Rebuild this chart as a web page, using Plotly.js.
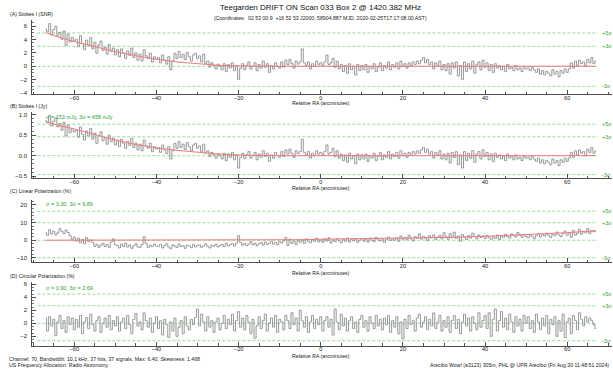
<!DOCTYPE html>
<html>
<head>
<meta charset="utf-8">
<script src="https://cdn.plot.ly/plotly-3.0.1.min.js"></script>
<style>
  html, body { margin: 0; padding: 0; background: #fff; }
  #chart { width: 613px; height: 375px; }
</style>
</head>
<body>
<div id="chart"></div>
<script>
// Drift scan sampling: relative RA (arcmin) of the first sample and the step between samples
const raStart = -67;
const raStep = 0.5;

// Stokes I flux density (Jy), one value per RA sample, -67 .. +67 arcmin
const stokesIJy = [
  0.86, 0.80, 0.98, 0.72, 0.84, 0.92, 0.70, 0.78, 0.62, 0.81, 0.48, 0.74, 0.56, 0.66, 0.58,
  0.62, 0.45, 0.70, 0.52, 0.38, 0.60, 0.48, 0.66, 0.40, 0.55, 0.30, 0.49, 0.58, 0.36, 0.44, 0.28, 0.50, 0.34, 0.42, 0.26,
  0.38, 0.22, 0.40, 0.30, 0.18, 0.35, 0.25, 0.42, 0.20, 0.31, 0.14, 0.28, 0.12, 0.38, 0.24, 0.18, 0.30, 0.10, 0.22, 0.16,
  0.20, 0.08, 0.26, 0.14, 0.05, 0.22, -0.08, 0.12, 0.30, 0.18, 0.34, 0.20, 0.28, 0.15, 0.32, 0.22, 0.12, 0.26, 0.30, 0.18,
  0.24, 0.10, 0.28, 0.06, 0.12, -0.02, 0.08, 0.02, -0.06, 0.05, 0.00, -0.08, 0.06, -0.12, 0.04, -0.04, 0.08, -0.10, 0.02, -0.30,
  -0.05, 0.06, -0.08, 0.02, 0.10, -0.06, 0.00, 0.08, -0.10, 0.04, -0.04, 0.12, -0.02, 0.06, -0.14, 0.02, -0.06, 0.08, 0.00, -0.04,
  0.10, -0.02, 0.14, 0.04, 0.16, 0.06, -0.04, 0.12, 0.05, 0.10, 0.40, 0.08, 0.02, 0.10, -0.06, 0.06, 0.00, 0.12, 0.04, 0.08,
  0.02, 0.10, 0.26, 0.04, 0.08, 0.18, -0.02, 0.12, -0.06, 0.04, -0.12, 0.02, -0.16, 0.06, -0.08, 0.00, -0.20, 0.04, -0.10, 0.02,
  -0.08, 0.04, -0.14, 0.00, -0.06, 0.06, -0.12, -0.02, 0.08, -0.10, 0.02, -0.04, 0.10, -0.08, 0.04, -0.02, 0.08, -0.06, 0.12, 0.00,
  0.06, -0.04, 0.08, 0.02, 0.10, 0.04, 0.12, 0.06, 0.14, 0.20, 0.08, 0.16, 0.04, 0.10, -0.06, 0.08, 0.02, 0.12, -0.08, 0.04,
  -0.10, 0.06, -0.18, 0.08, -0.04, 0.10, -0.22, 0.02, -0.30, 0.10, -0.12, 0.06, -0.06, 0.12, -0.16, 0.04, 0.10, -0.08, 0.14, -0.02,
  0.08, -0.10, 0.04, -0.14, 0.06, -0.04, 0.02, -0.08, 0.00, -0.12, 0.04, -0.06, -0.02, -0.10, 0.02, -0.08, -0.04, -0.12, 0.00, -0.06,
  -0.04, -0.10, -0.02, -0.08, -0.14, -0.06, -0.18, -0.10, -0.20, -0.12, -0.16, -0.22, -0.08, -0.18, -0.12, -0.24, -0.10, -0.16, -0.06, -0.14,
  -0.06, 0.08, -0.04, 0.12, 0.02, 0.14, 0.06, 0.10, 0.00, 0.16, 0.08, 0.20, 0.06, 0.12
];

// Linear polarization (%)
const linPol = [
  4.5, 2.8, 6.0, 3.5, 5.2, 3.0, 4.2, 6.5, 5.0, 3.8, 5.8, 4.4, 2.5, 0.5, 1.8,
  -0.5, 1.2, -1.5, 0.4, -2.0, 1.5, -0.8, 0.2, -1.2, -3.5, -2.2, -4.0, -2.8, -1.8, -3.6, -2.4, -4.2, -1.0, 0.8, -2.6,
  -3.0, -4.4, -2.2, -3.6, -1.6, -3.8, -2.6, -4.6, -3.2, -2.0, -3.8, -4.0, -2.4, 2.0, -1.8, -4.2, -2.8, -3.6, -2.2, -3.2,
  -3.6, -2.4, -4.4, -3.0, -2.0, -3.8, -4.8, -2.6, -3.4, -4.0, -2.2, -3.6, -3.0, -4.6, -2.8, -3.2, -4.2, -2.4, -3.8, -3.0,
  -2.6, -4.0, -3.2, -2.0, -3.6, -4.4, -2.8, -3.4, -2.2, -3.8, -3.0, -2.4, -3.6, -1.8, -3.2, -2.6, -2.0, -3.4, -1.6, 2.6,
  -1.2, -2.8, -1.8, -3.0, -2.2, -0.8, -2.6, -1.6, -3.2, -2.0, -1.4, -2.8, -1.0, -2.4, -1.8, -0.6, -2.2, -1.2, -2.6, -0.8,
  -1.6, -0.4, 1.6, -3.0, 0.6, -1.8, -0.6, -2.4, 0.2, -1.2, -0.2, -1.8, 0.8, -0.8, -1.4, 0.4, -0.6, 1.2, -1.0, 0.2,
  -1.2, 0.8, -0.4, 1.4, -1.6, 0.2, -0.8, 1.0, -0.2, -1.4, 0.6, -0.6, 1.2, -1.0, 0.4, -0.4, 0.8, -1.2, 0.0, 1.0,
  -0.6, 0.6, -1.0, 1.2, 0.0, -0.8, 1.6, 0.2, -0.4, 1.0, -1.2, 0.4, 1.8, -0.2, 0.8, 0.0, 1.4, -0.6, 2.4, 0.6,
  1.6, 0.2, 2.8, 0.8, -0.4, 2.0, 1.0, 3.6, 0.6, 2.2, 1.2, -0.2, 2.6, 1.4, 3.0, 0.4, 1.8, 2.8, 0.8, 4.2,
  2.0, 0.6, 3.8, 1.4, 4.6, 1.0, 2.4, -0.6, 3.2, 1.8, 0.4, 2.6, 1.2, 4.0, 2.2, 0.8, 3.0, 1.6, 2.4, 1.0,
  2.8, 1.4, 0.6, 2.2, 1.0, 3.0, 0.4, 2.4, 1.6, 3.4, 2.0, 1.2, 3.6, 2.6, 1.8, 4.4, 2.8, 1.6, 3.2, 2.2,
  1.4, 3.0, 2.2, 0.8, 2.6, 3.8, 1.8, 3.2, 2.4, 4.0, 2.8, 1.6, 3.4, 2.6, 4.6, 3.0, 2.0, 3.8, 5.2, 2.8,
  4.4, 1.6, 5.6, 2.8, 4.0, 6.2, 3.4, 5.0, 4.2, 6.6, 3.8, 5.4, 4.8, 5.2
];

// Circular polarization (%)
const circPol = [
  0.8, -1.2, 1.0, -0.4, 0.6, -1.9, 0.2, 1.2, -0.8, 0.4, -1.4, 1.0, -0.2, 0.8, -1.0,
  0.6, -0.6, 1.2, -1.6, 0.2, 0.9, -0.8, 1.4, -0.2, -1.2, 0.4, 1.0, -1.4, 0.0, 0.8, -0.6, 1.2, -1.0, 0.4, -0.4,
  1.0, -1.2, 0.2, 0.8, -0.8, 1.2, -0.2, -1.6, 0.6, 1.5, -0.4, 0.2, -1.0, 1.6, 0.4, -0.6, 0.8, -1.4, 0.0, 1.0,
  -0.8, 0.4, -1.8, 0.6, -0.2, -2.2, 0.2, -1.2, 0.8, -2.0, -0.6, 0.4, -1.6, 1.0, -0.4, -1.0, 0.6, -0.2, 0.9, 2.2,
  -0.4, 1.4, 0.2, -1.2, 1.0, -0.6, 0.4, -1.4, 0.2, 0.8, -1.0, 0.0, 1.2, -0.8, 0.6, -0.2, 1.4, -1.2, 0.4, 1.8,
  -0.6, 0.8, -1.0, 1.2, 0.2, -1.6, 0.6, -2.3, -0.4, 1.0, -0.8, 0.4, 1.4, -1.2, 0.0, 0.8, -0.6, 1.2, -1.4, 0.6,
  0.2, -1.0, 1.2, 0.4, -0.8, 1.6, -0.2, 0.8, -1.2, 2.0, 0.4, -0.6, 1.0, -1.4, 0.2, 1.2, -0.8, 0.6, -0.2, 1.0,
  -1.2, 0.4, 1.0, -0.6, 0.6, -1.8, 2.2, 0.2, -1.0, 1.4, -0.4, 0.8, -1.2, 0.4, 1.0, -0.8, 0.2, -1.4, 0.6, 1.2,
  -0.6, 0.4, -1.2, 1.0, 0.0, -0.8, 1.2, -0.4, 0.6, -1.0, 0.8, -0.2, 1.2, -1.4, 0.4, -0.6, 1.0, -1.6, 0.2, -2.4,
  0.6, -0.8, 1.2, -0.2, 0.4, -1.2, 0.8, 1.4, -0.6, 0.2, 1.0, -1.0, 0.6, -0.4, 1.6, -0.8, 0.2, 1.2, -1.2, 0.4,
  -0.6, 1.0, -1.4, 0.4, 1.2, -0.8, 0.6, -1.6, 0.2, 1.4, -0.4, 0.8, -1.2, 1.0, 0.0, -1.0, 1.6, -0.6, 0.4, 1.2,
  -0.8, 1.6, -2.0, 0.6, 2.2, -1.2, 0.4, 1.8, -0.6, 0.8, -1.0, 1.4, 0.2, -1.4, 1.0, -0.4, 0.6, -1.2, 1.2, 0.0,
  1.0, -0.8, 0.4, -1.4, 1.4, 0.2, -1.0, 0.8, -0.4, 1.2, -1.6, 0.6, -0.2, 1.0, -2.0, 0.4, -1.2, 1.4, -2.2, 0.2,
  0.8, -1.6, 1.2, 0.4, -1.0, 1.6, 0.6, -0.4, 1.0, 0.2, 0.8, 0.4, -0.2, -0.8
];

// Baseline fits (red curves)
const fitSnrX = [-67, -64, -60, -55, -50, -45, -40, -35, -30, -25, -20, -15, -10, 67];
const fitSnrY = [5.05, 4.4, 3.7, 2.9, 2.2, 1.6, 1.05, 0.65, 0.35, 0.15, 0.04, 0, 0, 0];
const fitJyX  = [-67, -64, -60, -55, -50, -45, -40, -35, -30, -25, -20, -15, -10, 67];
const fitJyY  = [0.83, 0.74, 0.65, 0.51, 0.38, 0.27, 0.19, 0.13, 0.08, 0.04, 0.015, 0, 0, 0];
const fitLinX = [-67, -10, -5, 0, 8, 20, 30, 40, 50, 60, 67];
const fitLinY = [0, 0, 0.3, 0.6, 0.8, 1.2, 1.6, 2.2, 3.2, 4.3, 5.4];

// Noise levels
const sigmaSnr = 1;
const sigmaJy = 0.153;
const sigmaLin = 3.297;
const sigmaCirc = 0.897;
const sigmaLevels = [5, 3, 0, -3];
const sigmaLevelLabels = ['+5σ', '+3σ', '', '-3σ'];

// Text
const chartTitle = 'Teegarden DRIFT ON Scan 033 Box 2 @ 1420.382 MHz';
const chartSubtitle = '(Coordinates:  02 53 00.9  +16 52 53 J2000, 58904.887 MJD, 2020-02-25T17:17:08.00 AST)';
const panelTitles = ['(A) Stokes I (SNR)', '(B) Stokes I (Jy)', '(C) Linear Polarization (%)', '(D) Circular Polarization (%)'];
const sigmaNotes = [null, 'σ = 153 mJy, 3σ = 458 mJy', 'σ = 3.30, 3σ = 9.89', 'σ = 0.90, 3σ = 2.69'];
const xAxisLabel = 'Relative RA (arcminutes)';
const footerLeft1 = 'Channel: 70, Bandwidth: 10.1 kHz, 37 hits, 37 signals, Max: 6.40, Skewness: 1.468';
const footerLeft2 = 'US Frequency Allocation: Radio Astronomy';
const footerRight = 'Arecibo Wow! (a3123) 305m, PHL @ UPR Arecibo (Fri Aug 30 11:48:51 2024)';

// Derived series
const ra = stokesIJy.map((_, i) => raStart + i * raStep);
const stokesISnr = stokesIJy.map(v => v / sigmaJy);

// Page geometry helpers (pixel -> paper fraction)
const W = 613, H = 375;
const fx = p => p / W;
const fy = p => 1 - p / H;

const FONT = 'Liberation Sans, Arial, sans-serif';
const INK = '#222';
const GREEN_LINE = '#7fcf7f';
const GREEN_TEXT = '#2f9f2f';
const DATA_GRAY = '#8c8c8c';
const FIT_RED = '#f07a7a';

const panels = [
  { y: stokesISnr, fitX: fitSnrX, fitY: fitSnrY, sigma: sigmaSnr, range: [-4.15, 6.94], dtick: 2, minor: 0.5, fmt: 'd',
    top: 20, bottom: 94, titleY: 13.5, labelY: 102.8, noteY: null },
  { y: stokesIJy, fitX: fitJyX, fitY: fitJyY, sigma: sigmaJy, range: [-0.55, 1.07], dtick: 0.5, minor: 0.1, fmt: '.1f',
    top: 111.7, bottom: 178.3, titleY: 105.8, labelY: 187.6, noteY: 117 },
  { y: linPol, fitX: fitLinX, fitY: fitLinY, sigma: sigmaLin, range: [-12.5, 22.8], dtick: 10, minor: 2, fmt: 'd',
    top: 200, bottom: 262.3, titleY: 190.5, labelY: 272.6, noteY: 203.7 },
  { y: circPol, fitX: null, fitY: null, sigma: sigmaCirc, range: [-3.45, 6.3], dtick: 2, minor: 0.5, fmt: 'd',
    top: 282.3, bottom: 345.7, titleY: 276, labelY: 356.2, noteY: 287.5 }
];

const traces = [];
const shapes = [];
const annotations = [];
const layout = {
  width: W, height: H,
  margin: { l: 0, r: 0, t: 0, b: 0 },
  paper_bgcolor: '#fff', plot_bgcolor: '#fff',
  showlegend: false,
  font: { family: FONT, color: INK, size: 6 }
};

panels.forEach((p, i) => {
  const sfx = i === 0 ? '' : String(i + 1);
  const xa = 'x' + sfx, ya = 'y' + sfx;

  layout['xaxis' + sfx] = {
    domain: [fx(32), fx(612)], anchor: ya, range: [-70.3, 70.9],
    tick0: 0, dtick: 20, ticks: 'inside', ticklen: 4, tickwidth: 0.8, tickcolor: INK,
    minor: { dtick: 5, ticks: 'inside', ticklen: 2.5, tickcolor: INK, tickwidth: 0.8, showgrid: false },
    showline: true, linecolor: INK, linewidth: 0.8, showgrid: false, zeroline: false,
    ticklabelstandoff: -2,
    tickfont: { size: 5.6, color: INK, family: FONT }
  };
  layout['yaxis' + sfx] = {
    domain: [fy(p.bottom), fy(p.top)], anchor: xa, range: p.range,
    tick0: 0, dtick: p.dtick, tickformat: p.fmt, ticks: 'inside', ticklen: 4, tickwidth: 0.8, tickcolor: INK,
    minor: { dtick: p.minor, ticks: 'inside', ticklen: 2, tickcolor: INK, tickwidth: 0.6, showgrid: false },
    showline: true, linecolor: INK, linewidth: 0.8, showgrid: false, zeroline: false,
    ticklabelstandoff: 3,
    tickfont: { size: 6, color: INK, family: FONT }
  };

  // sigma reference lines and their labels
  sigmaLevels.forEach((k, j) => {
    shapes.push({
      type: 'line', xref: xa, yref: ya, x0: -69, x1: 67.4, y0: k * p.sigma, y1: k * p.sigma,
      layer: 'below', line: { color: GREEN_LINE, width: 0.8, dash: '3px,2px' }
    });
    if (sigmaLevelLabels[j]) {
      annotations.push({
        xref: 'paper', yref: ya, x: fx(599.5), y: k * p.sigma, xanchor: 'left', yanchor: 'middle',
        text: sigmaLevelLabels[j], showarrow: false, font: { size: 5.5, color: GREEN_TEXT, family: FONT }
      });
    }
  });

  traces.push({
    type: 'scatter', mode: 'lines', x: ra, y: p.y, xaxis: xa, yaxis: ya,
    line: { color: DATA_GRAY, width: 0.9, shape: 'hvh' }, hoverinfo: 'skip'
  });
  if (p.fitX) {
    traces.push({
      type: 'scatter', mode: 'lines', x: p.fitX, y: p.fitY, xaxis: xa, yaxis: ya,
      line: { color: FIT_RED, width: 1 }, hoverinfo: 'skip'
    });
  }

  annotations.push({
    xref: 'paper', yref: 'paper', x: fx(8), y: fy(p.titleY), xanchor: 'left', yanchor: 'middle',
    text: panelTitles[i], showarrow: false, font: { size: 5.2, color: INK, family: FONT }
  });
  annotations.push({
    xref: 'paper', yref: 'paper', x: fx(320.5), y: fy(p.labelY), xanchor: 'center', yanchor: 'middle',
    text: xAxisLabel, showarrow: false, font: { size: 5.2, color: INK, family: FONT }
  });
  if (sigmaNotes[i]) {
    annotations.push({
      xref: 'paper', yref: 'paper', x: fx(43.5), y: fy(p.noteY), xanchor: 'left', yanchor: 'middle',
      text: sigmaNotes[i], showarrow: false, font: { size: 5.5, color: GREEN_TEXT, family: FONT }
    });
  }
});

annotations.push(
  { xref: 'paper', yref: 'paper', x: fx(320.3), y: fy(8), xanchor: 'center', yanchor: 'middle',
    text: chartTitle, showarrow: false, font: { size: 8, color: '#111', family: FONT } },
  { xref: 'paper', yref: 'paper', x: fx(320.3), y: fy(18), xanchor: 'center', yanchor: 'middle',
    text: chartSubtitle, showarrow: false, font: { size: 5.2, color: INK, family: FONT } },
  { xref: 'paper', yref: 'paper', x: fx(7), y: fy(359.3), xanchor: 'left', yanchor: 'middle',
    text: footerLeft1, showarrow: false, font: { size: 5.2, color: INK, family: FONT } },
  { xref: 'paper', yref: 'paper', x: fx(7), y: fy(364.5), xanchor: 'left', yanchor: 'middle',
    text: footerLeft2, showarrow: false, font: { size: 5.2, color: INK, family: FONT } },
  { xref: 'paper', yref: 'paper', x: fx(611), y: fy(364.5), xanchor: 'right', yanchor: 'middle',
    text: footerRight, showarrow: false, font: { size: 5.2, color: INK, family: FONT } }
);

layout.shapes = shapes;
layout.annotations = annotations;

Plotly.newPlot('chart', traces, layout, { staticPlot: true, displayModeBar: false });
</script>
</body>
</html>
